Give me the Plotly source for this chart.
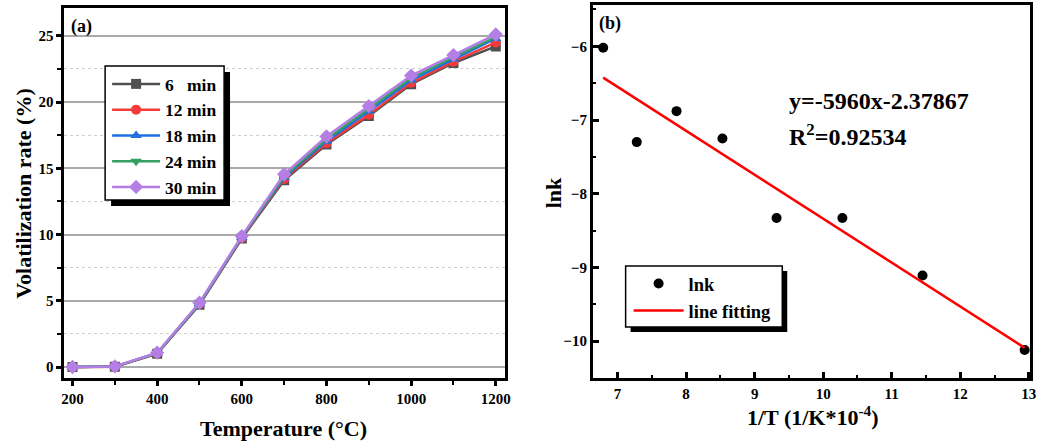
import plotly.graph_objects as go

W, H = 1053, 443

# ---- (a) volatilization rate vs temperature ----
temperature = [200, 300, 400, 500, 600, 700, 800, 900, 1000, 1100, 1200]
rate_6 = [0.0, 0.02, 1.00, 4.70, 9.70, 14.10, 16.80, 18.95, 21.35, 22.95, 24.20]
rate_12 = [0.0, 0.02, 1.02, 4.75, 9.75, 14.20, 16.90, 19.05, 21.45, 23.05, 24.50]
rate_18 = [0.0, 0.03, 1.04, 4.78, 9.80, 14.30, 17.05, 19.30, 21.65, 23.25, 24.80]
rate_24 = [0.0, 0.03, 1.05, 4.80, 9.82, 14.40, 17.20, 19.50, 21.80, 23.40, 24.90]
rate_30 = [0.0, 0.04, 1.08, 4.85, 9.88, 14.55, 17.40, 19.70, 22.00, 23.55, 25.10]
series_names = ["6\u00a0\u00a0\u00a0min", "12 min", "18 min", "24 min", "30 min"]

# ---- (b) Arrhenius plot ----
inv_T = [6.79, 7.28, 7.86, 8.53, 9.32, 10.28, 11.45, 12.94]
lnk = [-6.02, -7.30, -6.88, -7.25, -8.33, -8.33, -9.11, -10.12]
fit_slope = -5960.0      # per (1/K)
fit_intercept = -2.37867
fit_r2 = 0.92534

FONT = "Liberation Serif"


def px(x):
    return x / W


def py(y):
    return 1 - y / H


fig = go.Figure()

styles = [
    ("#505050", "square"),
    ("#f23b3b", "circle"),
    ("#1f6fe0", "triangle-up"),
    ("#35a062", "triangle-down"),
    ("#b47ee5", "diamond"),
]
for name, ys, (col, sym) in zip(series_names,
                                [rate_6, rate_12, rate_18, rate_24, rate_30],
                                styles):
    fig.add_trace(go.Scatter(
        x=temperature, y=ys, name=name, mode="lines+markers",
        line=dict(color=col, width=2.5),
        marker=dict(symbol=sym, size=10 if sym != "diamond" else 11, color=col),
        xaxis="x", yaxis="y", legend="legend",
    ))

fig.add_trace(go.Scatter(
    x=inv_T, y=lnk, name="lnk", mode="markers",
    marker=dict(symbol="circle", size=10, color="black"),
    xaxis="x2", yaxis="y2", legend="legend2",
))
fit_x = [inv_T[0], inv_T[-1]]
fit_y = [fit_slope * xv * 1e-4 + fit_intercept for xv in fit_x]
fig.add_trace(go.Scatter(
    x=fit_x, y=fit_y, name="line fitting", mode="lines",
    line=dict(color="#ff0000", width=2.5),
    xaxis="x2", yaxis="y2", legend="legend2",
))

tick_font = dict(family=FONT, size=15, color="black", weight="bold")
axis_common = dict(showline=True, linecolor="black", linewidth=3, mirror=True,
                   tickfont=tick_font, tickcolor="black", tickwidth=2.5,
                   zeroline=False, showgrid=False)

fig.update_layout(
    width=W, height=H,
    margin=dict(l=0, r=0, t=0, b=0),
    paper_bgcolor="white", plot_bgcolor="white",
    font=dict(family=FONT, color="black"),
    showlegend=True,
    xaxis=dict(domain=[px(62), px(506)], range=[181, 1221],
               tickmode="linear", tick0=200, dtick=200,
               ticks="outside", ticklen=5,
               minor=dict(dtick=100, tick0=200, ticks="outside", ticklen=4,
                          tickcolor="black", tickwidth=2),
               anchor="y", **axis_common),
    yaxis=dict(domain=[py(378), py(8)], range=[-0.83, 27.1],
               tickmode="linear", tick0=0, dtick=5,
               ticks="outside", ticklen=5,
               minor=dict(dtick=2.5, tick0=0, ticks="outside", ticklen=4,
                          tickcolor="black", tickwidth=2,
                          showgrid=True, gridcolor="#cfcfcf", griddash="dot",
                          gridwidth=1.3),
               anchor="x", **{**axis_common, "showgrid": True},
               gridcolor="#a9a9a9", gridwidth=1.5),
    xaxis2=dict(domain=[px(595), px(1036)], range=[6.64, 13.02],
                tickmode="linear", tick0=7, dtick=1,
                ticks="inside", ticklen=6,
                minor=dict(dtick=0.5, tick0=7, ticks="inside", ticklen=3,
                           tickcolor="black", tickwidth=2),
                anchor="y2", **axis_common),
    yaxis2=dict(domain=[py(378), py(5)], range=[-10.5, -5.44],
                tickmode="linear", tick0=-10, dtick=1,
                ticks="inside", ticklen=6,
                minor=dict(dtick=0.5, tick0=-10, ticks="inside", ticklen=3,
                           tickcolor="black", tickwidth=2),
                anchor="x2", **axis_common),
    legend=dict(x=px(105), y=py(66), xanchor="left", yanchor="top",
                bgcolor="rgba(0,0,0,0)", borderwidth=0,
                font=dict(family=FONT, size=17.5, color="black", weight="bold"),
                itemwidth=48, tracegroupgap=0),
    legend2=dict(x=px(631), y=py(265), xanchor="left", yanchor="top",
                 bgcolor="rgba(0,0,0,0)", borderwidth=0,
                 font=dict(family=FONT, size=18.5, color="black", weight="bold"),
                 itemwidth=50, tracegroupgap=0),
)

# legend frames with drop shadow
for (x0, y0, x1, y1, off) in [(103, 66, 223, 200, 6), (628, 266, 786, 327, 5)]:
    fig.add_shape(type="rect", xref="paper", yref="paper", layer="above",
                  x0=px(x0 + off), x1=px(x1 + off), y0=py(y1 + off), y1=py(y0 + off),
                  fillcolor="black", line=dict(width=0))
    fig.add_shape(type="rect", xref="paper", yref="paper", layer="above",
                  x0=px(x0), x1=px(x1), y0=py(y1), y1=py(y0),
                  fillcolor="white", line=dict(color="black", width=1.5))

title_font = dict(family=FONT, size=22, color="black", weight="bold")
eq_font = dict(family=FONT, size=24, color="black", weight="bold")
label_font = dict(family=FONT, size=18, color="black", weight="bold")
annos = [
    dict(text="(a)", x=px(67), y=py(26), xanchor="left", yanchor="middle", font=label_font),
    dict(text="(b)", x=px(599), y=py(24), xanchor="left", yanchor="middle", font=label_font),
    dict(text="Temperature (°C)", x=px(283), y=py(428), xanchor="center", yanchor="middle",
         font=title_font),
    dict(text="1/T (1/K*10<sup>-4</sup>)", x=px(817), y=py(416), xanchor="center",
         yanchor="middle", font=title_font),
    dict(text="Volatilization rate (%)", x=px(21), y=py(193), xanchor="center",
         yanchor="middle", textangle=-90, font=title_font),
    dict(text="lnk", x=px(556), y=py(193), xanchor="center", yanchor="middle",
         textangle=-90, font=title_font),
    dict(text=f"y={fit_slope:.0f}x{fit_intercept:+.5f}", x=px(791), y=py(101),
         xanchor="left", yanchor="middle", font=eq_font),
    dict(text=f"R<sup>2</sup>={fit_r2:.5f}", x=px(791), y=py(135),
         xanchor="left", yanchor="middle", font=eq_font),
]
for a in annos:
    fig.add_annotation(xref="paper", yref="paper", showarrow=False, **a)

fig.write_html("out.html")
